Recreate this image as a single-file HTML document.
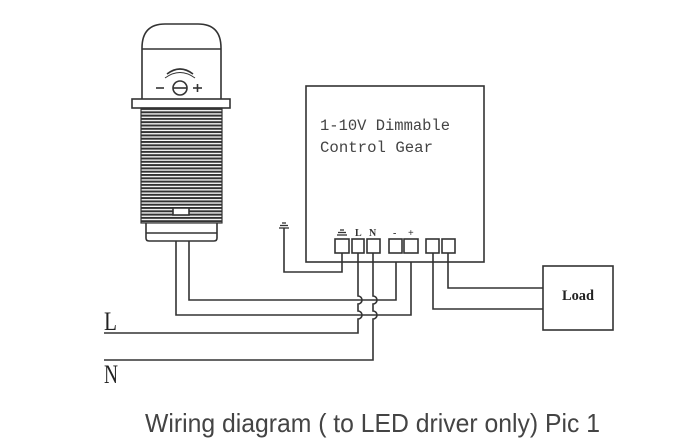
<!DOCTYPE html>
<html><head><meta charset="utf-8"><style>
html,body{margin:0;padding:0;background:#fff;}
svg{display:block;}
</style></head><body>
<svg width="680" height="446" viewBox="0 0 680 446" xmlns="http://www.w3.org/2000/svg">
<defs>
<pattern id="thr" x="0" y="108" width="6" height="3.3" patternUnits="userSpaceOnUse">
<rect width="6" height="3.3" fill="#fff"/>
<rect y="0" width="6" height="2" fill="#333"/>
</pattern>
</defs>
<g fill="none" stroke="#333" stroke-width="1.6">
<!-- sensor dome -->
<path d="M142,99 L142,48 Q142,24 165,24 L198,24 Q221,24 221,48 L221,99"/>
<line x1="142" y1="49" x2="221" y2="49"/>
<path d="M167,74 Q180,64 193,74"/>
<path d="M165,78 Q180,67 195,78" stroke-width="1"/>
<circle cx="180" cy="88" r="7"/>
<line x1="173" y1="88" x2="187" y2="88"/>
<line x1="156" y1="88" x2="164" y2="88"/>
<line x1="193" y1="88" x2="202" y2="88"/>
<line x1="197.5" y1="84" x2="197.5" y2="92"/>
<rect x="132" y="99" width="98" height="9" fill="#fff"/>
</g>
<rect x="141" y="108" width="81" height="115" fill="url(#thr)" stroke="#333" stroke-width="1.2"/>
<g fill="none" stroke="#333" stroke-width="1.6">
<rect x="173" y="208" width="16" height="7" fill="#fff"/>
<path d="M146,223 L146,238 Q146,241 149,241 L214,241 Q217,241 217,238 L217,223"/>
<line x1="146" y1="233" x2="217" y2="233"/>
<!-- sensor wires -->
<path d="M189,241 L189,300 L396,300 L396,253"/>
<path d="M176,241 L176,315 L411,315 L411,253"/>
<!-- control gear box -->
<rect x="306" y="86" width="178" height="176" fill="#fff"/>
<!-- terminals -->
<rect x="335" y="239" width="14" height="14" fill="#fff"/>
<rect x="352" y="239" width="12" height="14" fill="#fff"/>
<rect x="367" y="239" width="13" height="14" fill="#fff"/>
<rect x="389" y="239" width="13" height="14" fill="#fff"/>
<rect x="404" y="239" width="14" height="14" fill="#fff"/>
<rect x="426" y="239" width="13" height="14" fill="#fff"/>
<rect x="442" y="239" width="13" height="14" fill="#fff"/>
<!-- ground -->
<path d="M342,253 L342,272 L284,272 L284,228"/>
<!-- L and N with hops -->
<path d="M358,253 L358,296 A4,4 0 0 1 358,304 L358,311 A4,4 0 0 1 358,319 L358,333 L104,333"/>
<path d="M373,253 L373,296 A4,4 0 0 1 373,304 L373,311 A4,4 0 0 1 373,319 L373,360 L104,360"/>
<!-- load -->
<path d="M448,253 L448,288 L543,288"/>
<path d="M433,253 L433,309 L543,309"/>
<rect x="543" y="266" width="70" height="64" fill="#fff"/>
</g>
<g stroke="#333" stroke-width="1.3">
<line x1="279" y1="228" x2="289" y2="228"/>
<line x1="280" y1="225.5" x2="288" y2="225.5"/>
<line x1="282" y1="223" x2="286" y2="223"/>
<line x1="337" y1="235" x2="347" y2="235"/>
<line x1="338" y1="232.5" x2="346" y2="232.5"/>
<line x1="340" y1="230" x2="344" y2="230"/>
</g>
<g fill="#333" font-family="Liberation Serif, serif" font-weight="bold" font-size="10">
<text x="355" y="236">L</text>
<text x="369" y="236">N</text>
<text x="393" y="236">-</text>
<text x="408" y="236">+</text>
</g>
<g fill="#444" font-family="Liberation Mono, monospace" font-size="15.5">
<text x="320" y="130" textLength="130" lengthAdjust="spacingAndGlyphs">1-10V Dimmable</text>
<text x="320" y="152" textLength="113" lengthAdjust="spacingAndGlyphs">Control Gear</text>
</g>
<text x="562" y="300" fill="#222" font-family="Liberation Serif, serif" font-weight="bold" font-size="15" textLength="32" lengthAdjust="spacingAndGlyphs">Load</text>
<g fill="#222" font-family="Liberation Serif, serif" font-size="26">
<text x="104" y="330" textLength="13" lengthAdjust="spacingAndGlyphs">L</text>
<text x="104" y="383" textLength="14" lengthAdjust="spacingAndGlyphs">N</text>
</g>
<text x="145" y="432" fill="#444" font-family="Liberation Sans, sans-serif" font-size="26" textLength="455" lengthAdjust="spacingAndGlyphs">Wiring diagram ( to LED driver only) Pic 1</text>
</svg>
</body></html>
